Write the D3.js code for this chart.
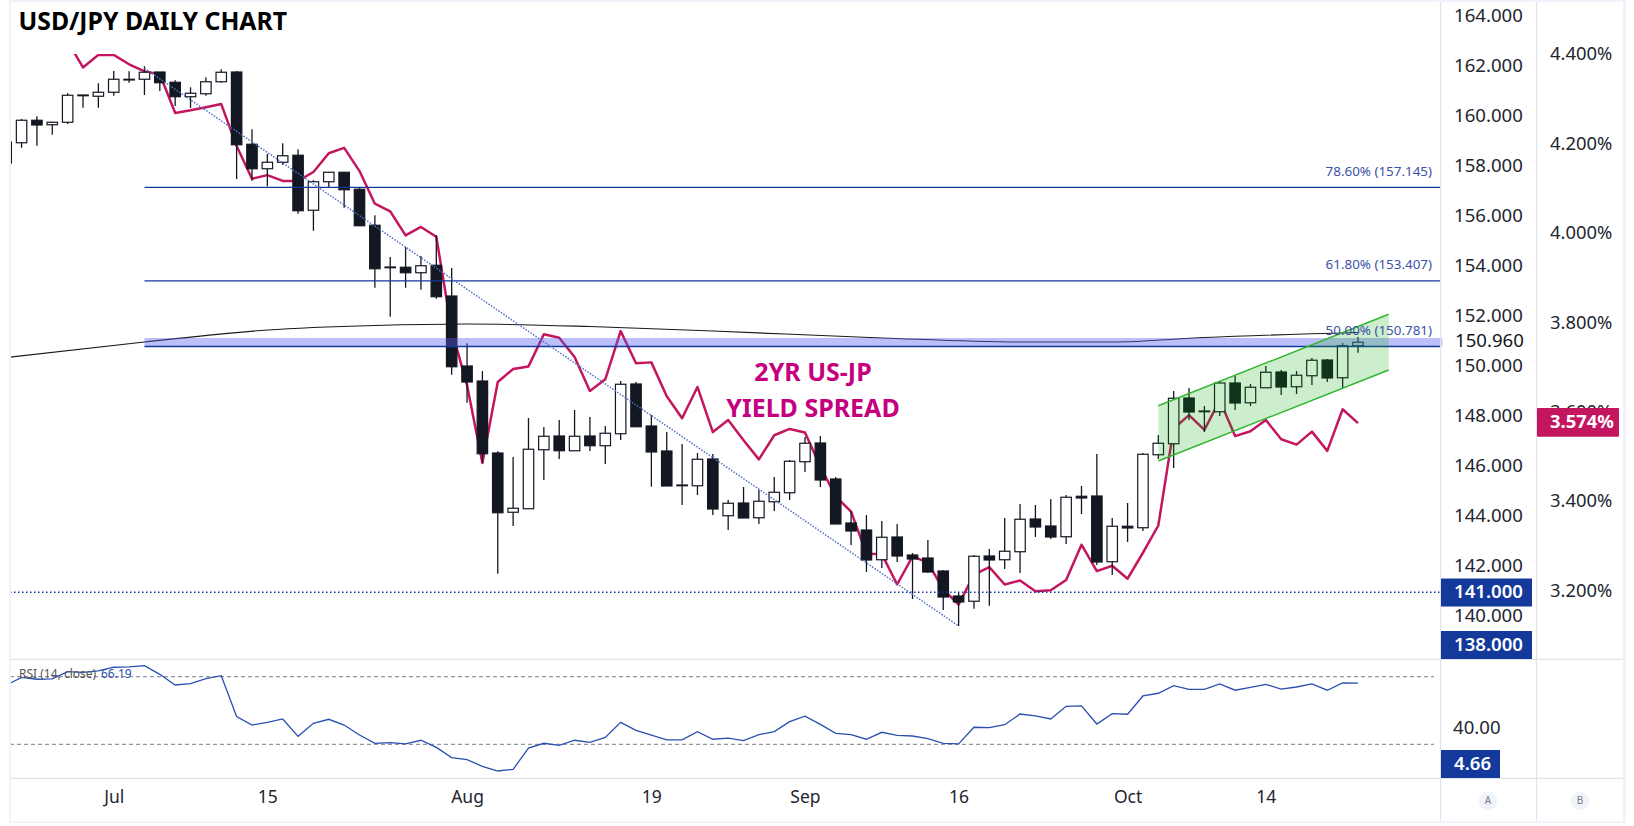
<!DOCTYPE html>
<html>
<head>
<meta charset="utf-8">
<script src="https://cdn.jsdelivr.net/npm/d3@7"></script>
<style>
  html, body { margin: 0; padding: 0; background: #fff; }
  svg { display: block; }
  text { font-family: "Noto Sans", sans-serif; }
</style>
</head>
<body>
<svg id="chart" width="1634" height="826"></svg>
<script>
// usd/jpy daily candles
const candleOpen = [158.12,158.93,159.83,159.65,159.75,160.84,160.79,160.95,161.47,161.47,161.76,161.35,160.77,160.89,161.37,161.76,158.87,157.89,158.15,158.43,156.23,157.37,157.75,157.07,155.63,153.96,153.95,153.73,154.03,152.80,150.00,149.40,146.52,144.15,144.29,146.65,147.20,146.61,147.20,146.81,147.29,149.28,147.60,146.60,145.24,145.21,146.28,144.01,144.52,143.93,144.57,144.93,146.17,146.92,145.48,143.72,143.44,142.25,143.16,142.44,142.32,141.80,140.80,140.59,142.40,142.25,142.57,143.88,143.60,143.17,144.79,144.80,142.17,143.59,143.53,146.45,146.89,148.72,148.17,148.17,149.32,148.53,149.13,149.76,149.17,149.61,150.24,149.53,150.81];
const candleClose = [158.96,159.83,159.64,159.75,160.83,160.81,160.95,161.47,161.44,161.75,161.33,160.77,160.91,161.37,161.75,158.85,157.89,158.15,158.41,156.21,157.37,157.75,157.05,155.61,153.89,153.93,153.73,154.01,152.77,149.97,149.36,146.49,144.13,144.31,146.67,147.19,146.61,147.19,146.81,147.31,149.27,147.57,146.56,145.20,145.21,146.27,144.28,144.51,143.92,144.59,144.95,146.19,146.91,145.44,143.68,143.40,142.24,143.15,142.40,142.28,141.76,140.76,140.56,142.39,142.24,142.59,143.87,143.56,143.16,144.75,144.72,142.16,143.59,143.52,146.47,146.91,148.71,148.16,148.20,149.32,148.52,149.15,149.75,149.16,149.63,150.23,149.52,150.81,150.95];
const candleHigh = [159.00,159.88,159.99,159.77,160.91,160.85,161.31,161.80,161.79,161.99,161.76,161.43,161.15,161.55,161.87,161.80,159.47,158.48,158.91,158.67,157.43,157.76,157.76,157.16,156.03,154.36,154.76,154.40,155.24,153.92,150.91,149.80,146.59,146.36,147.92,147.56,147.84,148.24,147.96,147.60,149.40,149.36,148.04,147.36,146.88,146.52,146.48,144.64,145.16,145.04,145.56,146.24,147.16,147.20,145.56,144.20,144.04,143.80,143.68,142.52,143.04,141.84,140.92,142.44,142.68,143.92,144.48,144.44,144.68,144.84,145.20,146.48,143.92,144.52,146.52,147.24,149.00,149.12,148.40,149.40,149.60,149.28,150.00,149.84,149.80,150.32,150.28,150.92,151.16];
const candleLow = [158.08,158.73,158.81,159.25,159.68,160.33,160.33,160.81,161.33,160.84,161.00,160.40,160.32,160.81,161.33,157.48,157.41,157.19,158.05,156.09,155.41,157.13,156.33,155.60,153.13,151.97,153.13,153.05,152.69,149.65,148.53,146.12,141.69,143.60,144.29,145.44,146.28,146.61,146.60,146.08,147.04,147.57,145.17,145.20,144.44,144.84,144.04,143.44,143.92,143.68,144.20,144.64,145.76,145.16,143.68,142.84,141.76,141.92,142.16,140.68,141.72,140.24,139.60,140.29,140.41,141.88,141.72,143.16,143.08,142.88,144.08,142.04,141.64,142.96,143.40,146.28,145.92,147.84,147.36,148.00,148.24,148.40,149.12,148.84,148.88,149.24,149.36,149.12,150.53];

// 2yr us-jp yield spread, percent (the first bars sit above the picture)
const spreadValues = [null,null,null,null,4.428,4.370,4.398,4.398,4.377,4.361,4.355,4.268,4.274,4.281,4.288,4.194,4.121,4.129,4.116,4.116,4.136,4.178,4.190,4.138,4.065,4.048,3.994,4.013,3.991,3.782,3.659,3.485,3.666,3.695,3.701,3.773,3.765,3.722,3.646,3.672,3.780,3.708,3.710,3.634,3.585,3.655,3.554,3.581,3.536,3.493,3.547,3.561,3.553,3.477,3.410,3.376,3.282,3.281,3.213,3.276,3.262,3.202,3.168,3.235,3.252,3.213,3.222,3.198,3.200,3.223,3.302,3.243,3.255,3.226,3.284,3.345,3.562,3.592,3.559,3.625,3.545,3.556,3.581,3.538,3.526,3.555,3.512,3.605,3.574];

// rsi 14
const rsiValues = [66.1,69.6,68.5,68.7,73.0,72.6,73.4,75.6,75.8,76.5,71.4,65.1,65.9,68.9,70.6,46.4,41.4,43.0,45.0,34.7,42.4,44.8,41.4,35.5,30.6,31.0,30.2,32.4,28.2,22.1,20.9,17.0,14.2,15.2,27.8,30.6,29.4,32.4,31.2,34.1,43.0,38.3,35.5,32.6,32.6,37.5,33.0,33.6,32.2,35.7,37.5,43.4,46.6,41.8,36.5,35.7,33.0,37.1,35.3,34.9,33.4,30.6,30.2,40.1,39.9,41.6,47.9,46.8,45.0,52.5,52.7,42.0,48.1,47.8,58.6,60.2,64.7,62.5,62.5,65.7,62.0,63.7,65.5,62.7,63.9,65.7,62.0,66.3,66.19];

// slow moving average, sampled at these bars
const maBars = [0,9,17,24,30,38,46,57,66,72,78,88];
const maValues = [150.34,150.96,151.44,151.62,151.68,151.58,151.40,151.12,150.96,150.96,151.14,151.34];

const fibLevels = [157.145, 153.407, 150.781];
const fibLabels = ["78.60% (157.145)", "61.80% (153.407)", "50.00% (150.781)"];
const bandTop = 151.12;
const supportLevel = 140.95;

const trendBars = [9, 62];
const trendPrices = [161.91, 139.60];
const channelBars = [75, 90];
const channelUpper = [148.41, 152.07];
const channelLower = [146.20, 149.84];

const priceTicks = [164,162,160,158,156,154,152,150,148,146,144,142,140];
const spreadTicks = [4.4,4.2,4.0,3.8,3.6,3.4,3.2];
const timeTickBars = [7,17,30,42,52,62,73,82];
const timeTickLabels = ["Jul","15","Aug","19","Sep","16","Oct","14"];
const rsiGuides = [70, 30];

const dark = "#131722";
const blue = "#13399b";
const pink = "#c4165f";
const gridGrey = "#e0e3eb";
const frameGrey = "#f0f3fa";

const plotLeft = 10, plotRight = 1440.5, axis2Left = 1536.5, axisRight = 1623;
const plotTop = 2, mainBottom = 659.3, rsiBottom = 778.3, timeBottom = 821;

const svg = d3.select("#chart");

const x = d3.scaleLinear().domain([0, 88]).range([6.2, 1358]);
const y = d3.scaleLinear().domain([164, 138]).range([16, 666]);
const ySpread = d3.scaleLinear().domain([4.4, 3.2]).range([54, 590.3]);
const yRsi = d3.scaleLinear().domain([70, 30]).range([676.7, 744.3]);
const bodyWidth = (x(1) - x(0)) * 0.68;

svg.append("clipPath").attr("id", "plotClip").append("rect")
  .attr("x", plotLeft).attr("y", 54).attr("width", plotRight - plotLeft).attr("height", mainBottom - 54);
svg.append("clipPath").attr("id", "wideClip").append("rect")
  .attr("x", plotLeft).attr("y", plotTop).attr("width", plotRight - plotLeft + 2).attr("height", mainBottom - plotTop);

// --- main pane ---
const main = svg.append("g").attr("clip-path", "url(#plotClip)");

main.append("path")
  .attr("fill", "none").attr("stroke", pink).attr("stroke-width", 2.5).attr("stroke-linejoin", "round")
  .attr("d", d3.line().defined(d => d != null).x((d, i) => x(i)).y(d => ySpread(d))(spreadValues));

main.append("path")
  .attr("fill", "none").attr("stroke", "#1a1a1a").attr("stroke-width", 1.1)
  .attr("d", d3.line().curve(d3.curveMonotoneX).x((d, i) => x(maBars[i])).y(d => y(d))(maValues));

const candles = main.selectAll(".candle").data(candleOpen).enter().append("g").attr("class", "candle");
candles.append("line")
  .attr("x1", (d, i) => x(i)).attr("x2", (d, i) => x(i))
  .attr("y1", (d, i) => y(candleHigh[i])).attr("y2", (d, i) => y(candleLow[i]))
  .attr("stroke", dark).attr("stroke-width", 1.3);
candles.append("rect")
  .attr("x", (d, i) => x(i) - bodyWidth / 2)
  .attr("width", bodyWidth)
  .attr("y", (d, i) => y(Math.max(d, candleClose[i])))
  .attr("height", (d, i) => Math.abs(y(d) - y(candleClose[i])))
  .attr("fill", (d, i) => candleClose[i] >= d ? "#fff" : dark)
  .attr("stroke", dark).attr("stroke-width", 1.2);

// --- fib levels ---
const levels = svg.append("g").attr("clip-path", "url(#wideClip)");
levels.append("rect")
  .attr("x", x(9)).attr("width", plotRight + 2 - x(9))
  .attr("y", y(bandTop)).attr("height", y(fibLevels[2]) - y(bandTop))
  .attr("fill", "rgb(90,95,240)").attr("fill-opacity", 0.4);
levels.selectAll(".fib").data(fibLevels).enter().append("line")
  .attr("x1", x(9)).attr("x2", plotRight)
  .attr("y1", d => y(d)).attr("y2", d => y(d))
  .attr("stroke", blue).attr("stroke-width", 1.3);
levels.append("line")
  .attr("x1", plotLeft).attr("x2", plotRight)
  .attr("y1", y(supportLevel)).attr("y2", y(supportLevel))
  .attr("stroke", blue).attr("stroke-width", 1.3).attr("stroke-dasharray", "1.5,2.5");

// trend line
levels.append("line")
  .attr("x1", x(trendBars[0])).attr("y1", y(trendPrices[0]))
  .attr("x2", x(trendBars[1])).attr("y2", y(trendPrices[1]))
  .attr("stroke", "#4f70c4").attr("stroke-width", 1.5).attr("stroke-dasharray", "1.5,1.5");

// rising channel
const channelPoints = [
  [channelBars[0], channelUpper[0]], [channelBars[1], channelUpper[1]],
  [channelBars[1], channelLower[1]], [channelBars[0], channelLower[0]]
];
levels.append("polygon")
  .attr("points", channelPoints.map(p => x(p[0]) + "," + y(p[1])).join(" "))
  .attr("fill", "rgb(0,170,0)").attr("fill-opacity", 0.2);
[channelUpper, channelLower].forEach(function (edge) {
  levels.append("line")
    .attr("x1", x(channelBars[0])).attr("y1", y(edge[0]))
    .attr("x2", x(channelBars[1])).attr("y2", y(edge[1]))
    .attr("stroke", "#2fb52f").attr("stroke-width", 1.4);
});

svg.selectAll(".fibLabel").data(fibLabels).enter().append("text")
  .attr("x", 1432).attr("y", (d, i) => y(fibLevels[i]) - 15)
  .attr("text-anchor", "end").attr("dominant-baseline", "middle")
  .attr("font-size", 13.4).attr("fill", "#3a52a8").text(d => d);

// annotation
const noteLines = ["2YR US-JP", "YIELD SPREAD"];
svg.selectAll(".note").data(noteLines).enter().append("text")
  .attr("x", 813).attr("y", (d, i) => 374 + i * 36)
  .attr("text-anchor", "middle").attr("dominant-baseline", "middle")
  .attr("font-size", 25).attr("font-weight", 700).attr("fill", "#c4007f").text(d => d);

// title
svg.append("text").attr("x", 18.5).attr("y", 29.5)
  .attr("font-size", 24.8).attr("font-weight", 700).attr("fill", "#000").text("USD/JPY DAILY CHART");

// --- rsi pane ---
const rsi = svg.append("g");
rsi.selectAll(".guide").data(rsiGuides).enter().append("line")
  .attr("x1", plotLeft).attr("x2", 1434)
  .attr("y1", d => yRsi(d)).attr("y2", d => yRsi(d))
  .attr("stroke", "#787b86").attr("stroke-width", 1).attr("stroke-dasharray", "4,3");
rsi.append("path")
  .attr("fill", "none").attr("stroke", "#2a4fb0").attr("stroke-width", 1.3)
  .attr("d", d3.line().x((d, i) => Math.max(x(i), plotLeft)).y(d => yRsi(d))(rsiValues));
rsi.append("text").attr("x", 19).attr("y", 675).attr("dominant-baseline", "middle")
  .attr("font-size", 12).attr("fill", "#555").text("RSI (14, close)");
rsi.append("text").attr("x", 101).attr("y", 675).attr("dominant-baseline", "middle")
  .attr("font-size", 12).attr("fill", "#2a4fb0").text("66.19");

// --- frame ---
const frame = svg.append("g").attr("stroke", gridGrey).attr("stroke-width", 1.2);
[mainBottom, rsiBottom].forEach(function (py) {
  frame.append("line").attr("x1", plotLeft).attr("x2", axisRight).attr("y1", py).attr("y2", py);
});
[plotRight, axis2Left].forEach(function (px) {
  frame.append("line").attr("x1", px).attr("x2", px).attr("y1", plotTop).attr("y2", timeBottom);
});
svg.append("rect").attr("x", 9).attr("y", 0).attr("width", 1617).attr("height", 2).attr("fill", frameGrey);
svg.append("rect").attr("x", 9).attr("y", timeBottom).attr("width", 1617).attr("height", 2).attr("fill", frameGrey);
svg.append("rect").attr("x", 9).attr("y", 0).attr("width", 2).attr("height", 823).attr("fill", frameGrey);
svg.append("rect").attr("x", axisRight).attr("y", 0).attr("width", 3).attr("height", 823).attr("fill", frameGrey);

// --- axes ---
function cleanAxis(g, size, color) {
  g.select(".domain").remove();
  g.selectAll(".tick line").remove();
  g.selectAll("text").attr("font-family", "Noto Sans").attr("font-size", size).attr("fill", color);
}

svg.append("g").attr("transform", "translate(1454,0)")
  .call(d3.axisRight(y).tickValues(priceTicks).tickSize(0).tickPadding(0).tickFormat(d3.format(".3f")))
  .call(cleanAxis, 18.6, "#23262f");

svg.append("g").attr("transform", "translate(1550,0)")
  .call(d3.axisRight(ySpread).tickValues(spreadTicks).tickSize(0).tickPadding(0).tickFormat(d => d3.format(".3f")(d) + "%"))
  .call(cleanAxis, 18.4, "#23262f");

svg.append("g").attr("transform", "translate(1453,0)")
  .call(d3.axisRight(yRsi).tickValues([40]).tickSize(0).tickPadding(0).tickFormat(d3.format(".2f")))
  .call(cleanAxis, 18.6, "#23262f");

svg.append("g").attr("transform", "translate(0," + (rsiBottom + 12) + ")")
  .call(d3.axisBottom(x).tickValues(timeTickBars).tickSize(0).tickPadding(0).tickFormat((d, i) => timeTickLabels[i]))
  .call(cleanAxis, 17.5, "#23262f");

svg.append("text").attr("x", 1455).attr("y", 342.5).attr("dominant-baseline", "middle")
  .attr("font-size", 18.6).attr("fill", dark).text("150.960");

// price tags
const priceTags = [
  { label: "141.000", top: 578.5, w: 91 },
  { label: "138.000", top: 631, w: 91 },
  { label: "4.66", top: 750, w: 59 }
];
priceTags.forEach(function (t) {
  svg.append("rect").attr("x", 1441).attr("y", t.top).attr("width", t.w).attr("height", 28).attr("fill", blue);
  svg.append("text").attr("x", 1454).attr("y", t.top + 14.5).attr("dominant-baseline", "middle")
    .attr("font-size", 18.6).attr("font-weight", 600).attr("fill", "#fff").text(t.label);
});
svg.append("rect").attr("x", 1537).attr("y", 408).attr("width", 82).attr("height", 28.7).attr("rx", 1).attr("fill", pink);
svg.append("text").attr("x", 1550).attr("y", 422.5).attr("dominant-baseline", "middle")
  .attr("font-size", 18.4).attr("font-weight", 700).attr("fill", "#fff").text("3.574%");

// scale buttons
const scaleButtons = [{ t: "A", cx: 1488 }, { t: "B", cx: 1580 }];
scaleButtons.forEach(function (b) {
  svg.append("circle").attr("cx", b.cx).attr("cy", 801).attr("r", 9.3).attr("fill", frameGrey);
  svg.append("text").attr("x", b.cx).attr("y", 801.5).attr("text-anchor", "middle").attr("dominant-baseline", "middle")
    .attr("font-size", 10).attr("fill", "#787b86").text(b.t);
});
</script>
</body>
</html>
